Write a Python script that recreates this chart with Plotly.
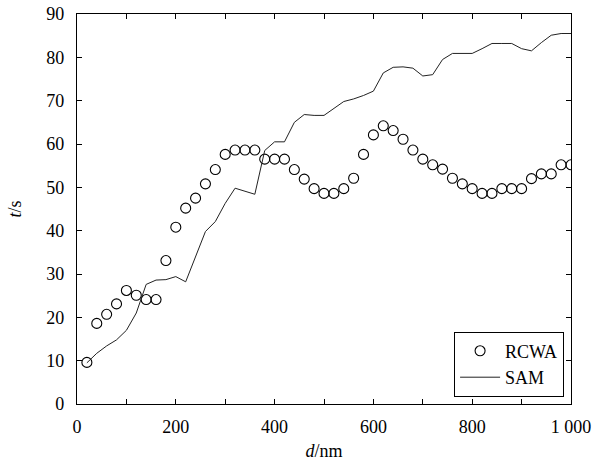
import plotly.graph_objects as go

# Layer thickness d (nm), sampled every 20 nm
d_nm = [20, 40, 60, 80, 100, 120, 140, 160, 180, 200,
        220, 240, 260, 280, 300, 320, 340, 360, 380, 400,
        420, 440, 460, 480, 500, 520, 540, 560, 580, 600,
        620, 640, 660, 680, 700, 720, 740, 760, 780, 800,
        820, 840, 860, 880, 900, 920, 940, 960, 980, 1000]

# Computation time t (s) of the RCWA method
t_rcwa = [9.6, 18.6, 20.7, 23.1, 26.2, 25.1, 24.1, 24.1, 33.1, 40.8,
          45.2, 47.5, 50.8, 54.1, 57.6, 58.6, 58.6, 58.6, 56.5, 56.5,
          56.5, 54.1, 51.9, 49.7, 48.6, 48.6, 49.7, 52.1, 57.6, 62.1,
          64.2, 63.1, 61.1, 58.6, 56.5, 55.2, 54.2, 52.1, 50.8, 49.7,
          48.6, 48.6, 49.7, 49.7, 49.7, 52.0, 53.1, 53.1, 55.2, 55.2]

# Computation time t (s) of the SAM method
t_sam = [9.5, 11.7, 13.4, 14.8, 17.0, 21.0, 27.6, 28.6, 28.7, 29.4,
         28.2, 34.0, 39.8, 42.1, 46.3, 49.8, 49.1, 48.4, 58.5, 60.5,
         60.5, 65.0, 66.8, 66.6, 66.6, 68.2, 69.8, 70.4, 71.2, 72.2,
         76.4, 77.7, 77.8, 77.5, 75.7, 76.0, 79.5, 80.9, 80.9, 80.9,
         82.0, 83.2, 83.2, 83.2, 82.0, 81.5, 83.4, 85.1, 85.5, 85.5]

x_tick_vals = [0, 100, 200, 300, 400, 500, 600, 700, 800, 900, 1000]
x_tick_text = ["0", "", "200", "", "400", "", "600", "", "800", "", "1 000"]
y_tick_vals = [0, 10, 20, 30, 40, 50, 60, 70, 80, 90]

FONT = "Liberation Serif"

fig = go.Figure()

fig.add_trace(go.Scatter(
    x=d_nm, y=t_rcwa, name="RCWA", mode="markers",
    marker=dict(symbol="circle-open", size=10, color="black",
                line=dict(width=1.1, color="black")),
))

fig.add_trace(go.Scatter(
    x=d_nm, y=t_sam, name="SAM", mode="lines",
    line=dict(color="#222222", width=1),
))

axis_common = dict(
    showline=True, linecolor="black", linewidth=1.3, mirror="ticks",
    ticks="inside", ticklen=5, tickwidth=1, tickcolor="black",
    showgrid=False, zeroline=False, automargin=False,
    tickfont=dict(family=FONT, size=18, color="black"),
)

fig.update_xaxes(
    range=[0, 1000], tickmode="array", tickvals=x_tick_vals, ticktext=x_tick_text,
    title=dict(text="<i>d</i>/nm", font=dict(family=FONT, size=18, color="black"),
               standoff=11),
    ticklabelstandoff=6,
    **axis_common,
)
fig.update_yaxes(
    range=[0, 90], tickmode="array", tickvals=y_tick_vals,
    title=dict(text="<i>t</i>/s", font=dict(family=FONT, size=18, color="black"),
               standoff=19),
    ticklabelstandoff=8,
    **axis_common,
)

fig.update_layout(
    width=597, height=461,
    margin=dict(l=77, r=26, t=14, b=57),
    paper_bgcolor="white", plot_bgcolor="white",
    font=dict(family=FONT, size=18, color="black"),
    showlegend=True,
    legend=dict(
        x=0.986, y=0.019, xanchor="right", yanchor="bottom",
        bordercolor="black", borderwidth=1, bgcolor="white",
        font=dict(family=FONT, size=18, color="black"),
        tracegroupgap=0, itemwidth=40,
        entrywidth=88, entrywidthmode="pixels",
    ),
)

fig.write_html("out.html")
